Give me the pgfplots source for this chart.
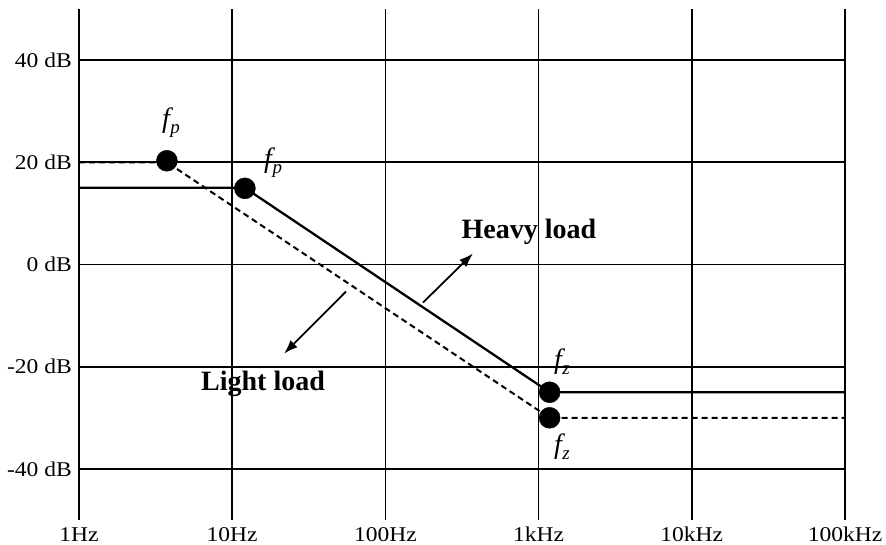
\documentclass[border=0pt]{standalone}
\usepackage{fontspec}
\setmainfont{Liberation Serif}
\newfontfamily\tickfont[FakeStretch=1.12]{Liberation Serif}
\usepackage{pgfplots}
\pgfplotsset{compat=1.18}
\usetikzlibrary{arrows.meta}
\newcommand{\fsub}[2]{{\fontsize{28}{28}\selectfont\itshape #1\kern0.5pt\raisebox{-6pt}{\fontsize{19}{19}\selectfont #2}}}
\begin{document}
\begin{tikzpicture}
\useasboundingbox (-79pt,-25pt) rectangle (807pt,520pt);
\begin{axis}[
 at={(0pt,0pt)}, anchor=south west,
 scale only axis, width=766pt, height=511pt,
 xmode=log, log basis x=10,
 xmin=1, xmax=100000, ymin=-50, ymax=50,
 xtick={1,10,100,1000,10000,100000},
 xticklabels={1Hz,10Hz,100Hz,1kHz,10kHz,100kHz},
 ytick={-40,-20,0,20,40},
 yticklabels={-40 dB,-20 dB,0 dB,20 dB,40 dB},
 xminorticks=false, yminorticks=false,
 grid=major,
 major grid style={black, line width=1.7pt},
 separate axis lines,
 x axis line style={draw=none},
 y axis line style={black, line width=1.7pt},
 major tick length=0pt,
 tick style={draw=none},
 ticklabel style={font=\tickfont\fontsize{21}{21}\selectfont},
 xticklabel style={inner sep=0pt, anchor=north, yshift=-7pt},
 yticklabel style={inner sep=0pt, anchor=east, xshift=-7pt},
 clip=false,
]
\addplot[black, line width=2pt, dash pattern=on 6pt off 4pt, mark=none] coordinates {(1,20) (3.75,20) (1180,-30) (100000,-30)};
\addplot[black, line width=2.3pt, mark=none] coordinates {(1,15) (12.1,15) (1180,-25) (100000,-25)};
\addplot[only marks, mark=*, mark size=10.5pt, black, solid] coordinates {(3.75,20.3) (12.1,14.9) (1180,-25) (1180,-30)};
\draw[-{Latex[length=14pt,width=10pt]}, line width=1.8pt] (axis cs:176,-7.45) -- (axis cs:373,2.16);
\draw[-{Latex[length=14pt,width=10pt]}, line width=1.8pt] (axis cs:55.3,-5.29) -- (axis cs:21.8,-17.45);
\node[font=\bfseries\fontsize{28}{28}\selectfont] at (axis cs:865,6.3) {Heavy load};
\node[font=\bfseries\fontsize{28}{28}\selectfont] at (axis cs:15.9,-23.3) {Light load};
\node at (axis cs:3.99,27.8) {\fsub{f}{p}};
\node at (axis cs:18.5,20) {\fsub{f}{p}};
\node at (axis cs:1422,-19) {\fsub{f}{z}};
\node at (axis cs:1422,-35.7) {\fsub{f}{z}};
\end{axis}
\end{tikzpicture}
\end{document}
